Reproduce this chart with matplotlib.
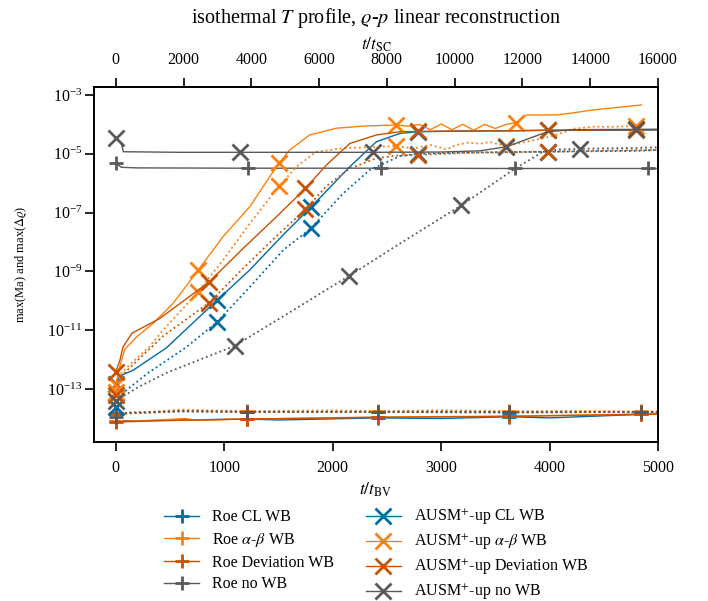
import numpy as np
import matplotlib
matplotlib.use('Agg')
import matplotlib.pyplot as plt
from matplotlib.ticker import LogLocator, NullLocator

plt.rcParams['font.family'] = 'serif'
plt.rcParams['font.serif'] = ['Liberation Serif', 'DejaVu Serif']
plt.rcParams['mathtext.fontset'] = 'stix'

# ---- data (time in t/t_BV, values as log10) ----
# Roe schemes, max(Ma) solid and max(drho) dotted
roe_mark_t = [0, 1210, 2420, 3630, 4840]

roe_cl_t = [0, 300, 600, 1210, 1500, 2420, 3000, 3630, 4000, 4840, 5000]
roe_cl_ma = [-14.08, -14.07, -14.05, -14.02, -14.05, -13.98, -14.0, -13.94, -13.98, -13.86, -13.85]
roe_cl_dr_t = [0, 300, 600, 1210, 2000, 2420, 3000, 3630, 4200, 4840, 5000]
roe_cl_dr = [-13.82, -13.8, -13.76, -13.78, -13.77, -13.77, -13.79, -13.8, -13.79, -13.78, -13.78]

roe_ab_t = [0, 300, 640, 700, 760, 1210, 2420, 3630, 4840, 5000]
roe_ab_ma = [-14.1, -14.07, -14.0, -14.04, -14.05, -14.02, -13.95, -13.92, -13.85, -13.84]
roe_ab_dr_t = [0, 300, 600, 1210, 2000, 2420, 3000, 3630, 4200, 4840, 5000]
roe_ab_dr = [-13.85, -13.78, -13.7, -13.75, -13.72, -13.75, -13.72, -13.75, -13.74, -13.76, -13.76]

roe_dev_t = [0, 600, 1210, 2420, 3630, 4840, 5000]
roe_dev_ma = [-14.12, -14.06, -14.02, -13.96, -13.93, -13.86, -13.85]
roe_dev_dr_t = [0, 300, 600, 1210, 2420, 3000, 3630, 4840, 5000]
roe_dev_dr = [-13.85, -13.8, -13.74, -13.78, -13.77, -13.76, -13.78, -13.78, -13.78]

roe_no_mark_t = [0, 1217, 2444, 3679, 4905]
roe_no_t = [0, 30, 53, 200, 1217, 2444, 3679, 4905, 5000]
roe_no_ma = [-5.33, -5.4, -5.46, -5.48, -5.49, -5.49, -5.5, -5.5, -5.5]
roe_no_dr_t = [0, 100, 600, 1210, 2420, 3630, 4840, 5000]
roe_no_dr = [-13.95, -13.8, -13.75, -13.77, -13.78, -13.78, -13.78, -13.78]

# AUSM+-up schemes
ausm_cl_t = [0, 40, 160, 467, 934, 1236, 1543, 1798, 2158, 2404, 2619, 2785, 3188, 3603, 3983, 4801, 5000]
ausm_cl_ma = [-12.82, -12.55, -12.36, -11.6, -9.98, -8.95, -7.76, -6.82, -5.44, -4.59, -4.31, -4.25,
              -4.23, -4.22, -4.2, -4.2, -4.19]
ausm_cl_mark = [0, 934, 1798, 2785, 3983]
ausm_cl_dr_t = [0, 37, 300, 652, 934, 1236, 1543, 1798, 2096, 2342, 2619, 2785, 3200, 3600, 3983, 4801, 5000]
ausm_cl_dr = [-13.6, -13.21, -12.45, -11.57, -10.72, -9.53, -8.28, -7.54, -6.35, -5.55, -5.08, -5.0,
              -4.96, -4.94, -4.93, -4.9, -4.87]
ausm_cl_dr_mark = [0, 934, 1798, 2785, 3983]

ausm_ab_t = [0, 40, 83, 200, 344, 528, 759, 989, 1236, 1420, 1506, 1604, 1789, 2035, 2280, 2582,
             2700, 2800, 2900, 3000, 3100, 3200, 3300, 3400, 3500, 3600, 3695, 3787, 4063, 4214,
             4398, 4583, 4847]
ausm_ab_ma = [-12.85, -12.2, -11.65, -11.2, -10.77, -10.09, -8.96, -7.82, -6.8, -5.78, -5.32, -4.87,
              -4.36, -4.13, -4.06, -4.02, -4.06, -4.0, -4.18, -3.99, -4.18, -4.0, -4.2, -4.0, -4.14,
              -4.0, -3.94, -3.68, -3.68, -3.61, -3.51, -3.44, -3.34]
ausm_ab_mark = [0, 759, 1506, 2582, 3695]
ausm_ab_dr_t = [0, 40, 150, 313, 436, 759, 989, 1236, 1506, 1666, 1851, 2096, 2300, 2582, 2750,
                2900, 3050, 3141, 3250, 3356, 3450, 3603, 3750, 3900, 4063, 4214, 4398, 4583, 4801, 4850]
ausm_ab_dr = [-13.1, -12.5, -12.1, -11.55, -11.0, -9.7, -8.62, -7.37, -6.1, -5.44, -4.93, -4.81,
              -4.78, -4.74, -4.82, -4.7, -4.85, -4.7, -4.62, -4.66, -4.6, -4.74, -4.62, -4.5, -4.36,
              -4.15, -4.08, -4.08, -4.05, -4.08]
ausm_ab_dr_mark = [0, 759, 1506, 2582, 3603, 4801]

ausm_dev_t = [0, 40, 67, 150, 406, 860, 1174, 1482, 1749, 1943, 2158, 2404, 2619, 2785, 3200,
              3600, 3983, 4400, 4801, 5000]
ausm_dev_ma = [-12.42, -12.0, -11.57, -11.1, -10.6, -9.36, -8.22, -7.14, -6.18, -5.38, -4.65,
               -4.36, -4.25, -4.24, -4.22, -4.22, -4.2, -4.2, -4.18, -4.17]
ausm_dev_mark = [0, 860, 1749, 2785, 3983, 4801]
ausm_dev_dr_t = [0, 40, 150, 436, 860, 1174, 1482, 1749, 1943, 2158, 2404, 2600, 2785, 3200,
                 3600, 3983, 4400, 4801, 5000]
ausm_dev_dr = [-13.2, -12.6, -12.2, -11.2, -10.07, -8.9, -7.8, -6.89, -6.1, -5.5, -5.15, -5.06,
               -5.04, -4.97, -4.95, -4.93, -4.9, -4.88, -4.87]
ausm_dev_dr_mark = [0, 860, 1749, 2785, 3983]

ausm_no_t = [0, 50, 70, 600, 1143, 2370, 3000, 3356, 3603, 3817, 3983, 4200, 4801, 5000]
ausm_no_ma = [-4.45, -4.62, -4.93, -4.95, -4.95, -4.95, -4.94, -4.9, -4.76, -4.47, -4.25, -4.18,
              -4.17, -4.17]
ausm_no_mark = [0, 1143, 2370, 3603, 4801]
ausm_no_dr_t = [0, 200, 467, 1097, 1600, 2148, 2600, 3188, 3663, 3940, 4100, 4278, 4800, 5000]
ausm_no_dr = [-13.4, -12.95, -12.45, -11.53, -10.4, -9.16, -8.1, -6.75, -5.55, -4.93, -4.85,
              -4.83, -4.8, -4.78]
ausm_no_dr_mark = [0, 1097, 2148, 3188, 4278]

c_blue = '#006BA4'
c_orange = '#FF800E'
c_dark = '#C85200'
c_gray = '#595959'

fig = plt.figure(figsize=(7.08, 6.01), dpi=100)
ax = fig.add_axes([0.1328, 0.265, 0.7966, 0.5907])


def draw(t, logy, mark_t, color, ls, marker, label=None):
    t = np.asarray(t, dtype=float)
    y = 10.0 ** np.asarray(logy)
    idx = [int(np.argmin(np.abs(t - m))) for m in mark_t]
    ms = 10 if marker == '+' else 11
    ax.plot(t, y, color=color, ls=ls, lw=1.0 if ls == '-' else 1.3, marker=marker,
            markevery=idx, ms=ms, mew=2.0, label=label)


draw(roe_cl_t, roe_cl_ma, roe_mark_t, c_blue, '-', '+', 'Roe CL WB')
draw(roe_cl_dr_t, roe_cl_dr, roe_mark_t, c_blue, ':', '+')
draw(roe_ab_t, roe_ab_ma, roe_mark_t, c_orange, '-', '+', r'Roe $\alpha$-$\beta$ WB')
draw(roe_ab_dr_t, roe_ab_dr, roe_mark_t, c_orange, ':', '+')
draw(roe_dev_t, roe_dev_ma, roe_mark_t, c_dark, '-', '+', 'Roe Deviation WB')
draw(roe_dev_dr_t, roe_dev_dr, roe_mark_t, c_dark, ':', '+')
draw(roe_no_t, roe_no_ma, roe_no_mark_t, c_gray, '-', '+', 'Roe no WB')
draw(roe_no_dr_t, roe_no_dr, roe_mark_t, c_gray, ':', '+')

draw(ausm_cl_t, ausm_cl_ma, ausm_cl_mark, c_blue, '-', 'x', r'AUSM$^{+}$-up CL WB')
draw(ausm_cl_dr_t, ausm_cl_dr, ausm_cl_dr_mark, c_blue, ':', 'x')
draw(ausm_ab_t, ausm_ab_ma, ausm_ab_mark, c_orange, '-', 'x', r'AUSM$^{+}$-up $\alpha$-$\beta$ WB')
draw(ausm_ab_dr_t, ausm_ab_dr, ausm_ab_dr_mark, c_orange, ':', 'x')
draw(ausm_dev_t, ausm_dev_ma, ausm_dev_mark, c_dark, '-', 'x', r'AUSM$^{+}$-up Deviation WB')
draw(ausm_dev_dr_t, ausm_dev_dr, ausm_dev_dr_mark, c_dark, ':', 'x')
draw(ausm_no_t, ausm_no_ma, ausm_no_mark, c_gray, '-', 'x', r'AUSM$^{+}$-up no WB')
draw(ausm_no_dr_t, ausm_no_dr, ausm_no_dr_mark, c_gray, ':', 'x')

ax.set_yscale('log')
ax.set_xlim(-200, 5000)
ax.set_ylim(10 ** -14.79, 10 ** -2.72)
ax.yaxis.set_major_locator(LogLocator(base=100.0, subs=[10.0], numticks=20))
ax.yaxis.set_minor_locator(NullLocator())
ax.set_xticks([0, 1000, 2000, 3000, 4000, 5000])
ax.set_xlabel(r'$t/t_{\mathrm{BV}}$', fontsize=12.5, labelpad=3)
ax.set_ylabel(r'max(Ma) and max($\Delta\varrho$)', fontsize=9, labelpad=13)
ax.tick_params(axis='both', direction='out', length=6.5, width=1.2, labelsize=11.5)
ax.tick_params(axis='x', pad=7)
ax.tick_params(axis='y', pad=2)
for s in ax.spines.values():
    s.set_linewidth(1.4)

top = ax.secondary_xaxis('top', functions=(lambda x: x * 3.2, lambda x: x / 3.2))
top.set_xticks(np.arange(0, 16001, 2000))
top.tick_params(direction='out', length=6.5, width=1.2, labelsize=11.5, pad=7)
top.set_xlabel(r'$t/t_{\mathrm{SC}}$', fontsize=12.5, labelpad=2)
top.spines['top'].set_linewidth(1.4)

ax.set_title(r'isothermal $T$ profile, $\varrho$-$p$ linear reconstruction', fontsize=14.5, pad=9)

ax.legend(loc='upper center', bbox_to_anchor=(0.5, -0.146), ncol=2, frameon=False,
          fontsize=11.5, columnspacing=2.0, labelspacing=0.36, handlelength=2.2)

fig.savefig('out.png', dpi=100)
